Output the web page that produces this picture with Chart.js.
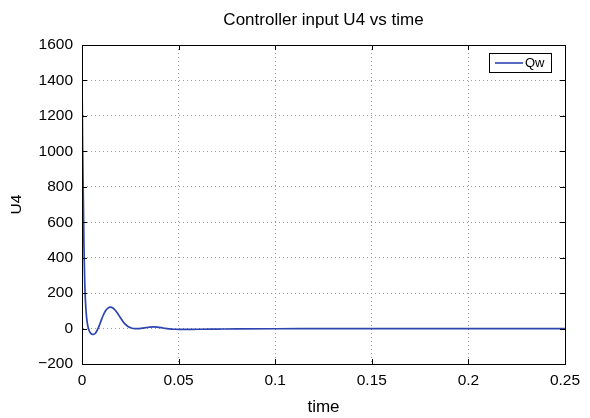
<!DOCTYPE html>
<html lang="en">
<head>
<meta charset="UTF-8">
<title>Controller input U4 vs time</title>
<script src="https://cdn.jsdelivr.net/npm/chart.js"></script>
<style>
html,body{margin:0;padding:0;background:#fff;}
#c{display:block;}
</style>
</head>
<body>
<canvas id="c" width="590" height="418"></canvas>
<script>
// time samples and controller input values
const times = [0, 0.0003, 0.0007, 0.001, 0.0014, 0.0018, 0.0024, 0.003, 0.0036, 0.0044, 0.0052, 0.006, 0.0068, 0.0076, 0.0086, 0.0098, 0.011, 0.0122, 0.0134, 0.0146, 0.0158, 0.017, 0.0184, 0.0198, 0.0212, 0.0226, 0.024, 0.0256, 0.0272, 0.029, 0.031, 0.033, 0.035, 0.037, 0.039, 0.041, 0.043, 0.045, 0.048, 0.052, 0.06, 0.07, 0.08, 0.1, 0.12, 0.15, 0.2, 0.25];
const qw = [1410, 1050, 730, 470, 270, 150, 60, 15, -8, -25, -32, -33, -28, -15, 8, 42, 75, 100, 115, 121, 118, 106, 86, 62, 40, 22, 10, 3, 0, 0, 2, 5, 8, 9, 8, 5, 1, -2, -4, -5, -4, -3, -2, -1, -0.5, 0, 0, 0];
const xTicks = [0, 0.05, 0.1, 0.15, 0.2, 0.25];
const xTickLabels = ['0', '0.05', '0.1', '0.15', '0.2', '0.25'];
const yTicks = [-200, 0, 200, 400, 600, 800, 1000, 1200, 1400, 1600];
const yTickLabels = ['\u2212200', '0', '200', '400', '600', '800', '1000', '1200', '1400', '1600'];
const titleText = 'Controller input U4 vs time';

const FONT = 'Helvetica, Arial, "Liberation Sans", sans-serif';
const LINE = '#2e44b0';

// black frame + inward tick marks like matlab, title centred on the axes
const framePlugin = {
  id: 'frame',
  afterDatasetsDraw(chart) {
    const {ctx, chartArea: a, scales: {x, y}} = chart;
    ctx.save();
    ctx.strokeStyle = '#000';
    ctx.lineWidth = 1;
    ctx.beginPath();
    xTicks.forEach(v => {
      const px = Math.round(x.getPixelForValue(v)) + 0.5;
      ctx.moveTo(px, a.bottom); ctx.lineTo(px, a.bottom - 5);
      ctx.moveTo(px, a.top); ctx.lineTo(px, a.top + 5);
    });
    yTicks.forEach(v => {
      const py = Math.round(y.getPixelForValue(v)) + 0.5;
      ctx.moveTo(a.left, py); ctx.lineTo(a.left + 5, py);
      ctx.moveTo(a.right, py); ctx.lineTo(a.right - 5, py);
    });
    ctx.stroke();
    ctx.strokeRect(Math.round(a.left) + 0.5, Math.round(a.top) + 0.5, Math.round(a.right - a.left), Math.round(a.bottom - a.top));
    ctx.restore();
  },
  afterDraw(chart) {
    const {ctx, chartArea: a} = chart;
    ctx.save();
    ctx.fillStyle = '#000';
    ctx.font = '17px ' + FONT;
    ctx.textAlign = 'center';
    ctx.textBaseline = 'alphabetic';
    ctx.fillText(titleText, (a.left + a.right) / 2, 25);

    // legend box in the top right corner of the axes
    const ds = chart.data.datasets[0];
    const w = 62, h = 19;
    const bx = Math.round(a.right) - 14 - w, by = Math.round(a.top) + 8;
    ctx.textAlign = 'left';
    ctx.fillStyle = '#fff';
    ctx.fillRect(bx, by, w, h);
    ctx.strokeStyle = '#000';
    ctx.lineWidth = 1;
    ctx.strokeRect(bx + 0.5, by + 0.5, w, h);
    ctx.strokeStyle = ds.borderColor;
    ctx.lineWidth = 1.6;
    ctx.beginPath();
    ctx.moveTo(bx + 6, by + 10); ctx.lineTo(bx + 34, by + 10);
    ctx.stroke();
    ctx.fillStyle = '#000';
    ctx.font = '13px ' + FONT;
    ctx.textBaseline = 'middle';
    ctx.fillText(ds.label, bx + 36, by + 10.5);
    ctx.restore();
  }
};

new Chart(document.getElementById('c'), {
  type: 'line',
  data: {
    datasets: [{
      label: 'Qw',
      data: times.map((t, i) => ({x: t, y: qw[i]})),
      borderColor: LINE,
      borderWidth: 1.7,
      pointRadius: 0,
      fill: false,
      cubicInterpolationMode: 'monotone'
    }]
  },
  options: {
    responsive: false,
    animation: false,
    devicePixelRatio: 1,
    layout: {padding: {left: 0, right: 25, top: 45, bottom: 0}},
    plugins: {
      legend: {display: false},
      tooltip: {enabled: false},
      title: {display: false}
    },
    scales: {
      x: {
        type: 'linear',
        min: 0, max: 0.25,
        afterBuildTicks: s => { s.ticks = xTicks.map(v => ({value: v})); },
        afterFit: s => { s.height = 54; },
        ticks: {
          color: '#000',
          font: {family: FONT, size: 15.5},
          padding: 7,
          maxRotation: 0,
          callback: (v, i) => xTickLabels[i]
        },
        grid: {color: '#9a9a9a', lineWidth: 1, drawTicks: false},
        border: {display: true, color: '#000', dash: [1, 3]},
        title: {
          display: true, text: 'time', color: '#000',
          font: {family: FONT, size: 17, lineHeight: 1.2},
          padding: {top: 0, bottom: 0}
        }
      },
      y: {
        type: 'linear',
        min: -200, max: 1600,
        afterBuildTicks: s => { s.ticks = yTicks.map(v => ({value: v})); },
        afterFit: s => { s.width = 82; },
        ticks: {
          color: '#000',
          font: {family: FONT, size: 15.5},
          padding: 9,
          callback: (v, i) => yTickLabels[i]
        },
        grid: {color: '#9a9a9a', lineWidth: 1, drawTicks: false},
        border: {display: true, color: '#000', dash: [1, 3]},
        title: {
          display: true, text: 'U4', color: '#000',
          font: {family: FONT, size: 15.5, lineHeight: 1.2},
          padding: {top: 7.4, bottom: 0}
        }
      }
    }
  },
  plugins: [framePlugin]
});
</script>
</body>
</html>
